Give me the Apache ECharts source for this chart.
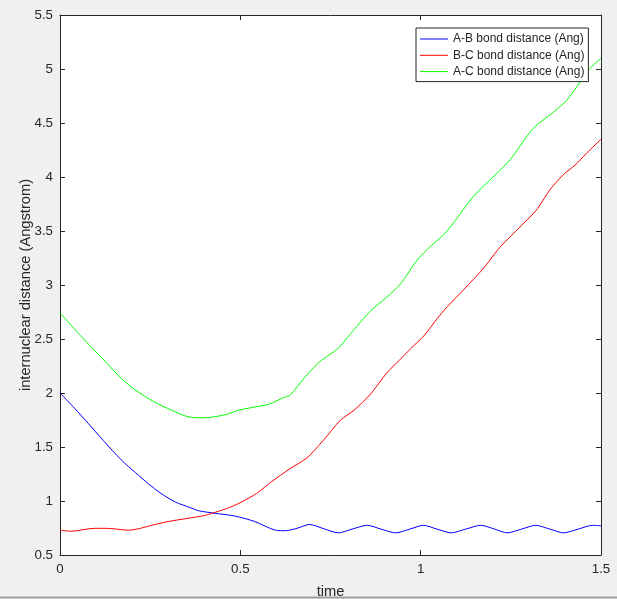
<!DOCTYPE html>
<html>
<head>
<meta charset="utf-8">
<script src="https://cdn.jsdelivr.net/npm/echarts@6/dist/echarts.min.js"></script>
<style>
    html, body { margin: 0; padding: 0; background: #f0f0f0; }
    #main { width: 617px; height: 599px; }
</style>
</head>
<body>
<div id="main"></div>
<script>
// A-B bond distance
var abTime = [0, 0.04, 0.078, 0.12, 0.17, 0.21, 0.245, 0.28, 0.32, 0.36, 0.384, 0.43, 0.486, 0.54, 0.597, 0.625,
    0.66, 0.692, 0.73, 0.772, 0.81, 0.852, 0.89, 0.931, 0.97, 1.008, 1.045, 1.085, 1.125, 1.167,
    1.205, 1.24, 1.28, 1.319, 1.358, 1.396, 1.437, 1.477, 1.5];
var abDist = [2.0, 1.86, 1.72, 1.56, 1.38, 1.26, 1.16, 1.07, 0.99, 0.94, 0.91, 0.886, 0.86, 0.81, 0.73, 0.725,
    0.75, 0.783, 0.745, 0.705, 0.74, 0.775, 0.74, 0.705, 0.74, 0.775, 0.74, 0.705, 0.74, 0.775,
    0.74, 0.705, 0.74, 0.775, 0.74, 0.705, 0.74, 0.775, 0.77];

// B-C bond distance
var bcTime = [0, 0.03, 0.096, 0.13, 0.19, 0.22, 0.26, 0.3, 0.355, 0.4, 0.43, 0.47, 0.503, 0.545, 0.587, 0.638,
    0.685, 0.731, 0.778, 0.815, 0.861, 0.907, 0.94, 0.972, 1.009, 1.046, 1.074, 1.12, 1.173, 1.22,
    1.27, 1.32, 1.358, 1.395, 1.428, 1.46, 1.5];
var bcDist = [0.73, 0.72, 0.747, 0.747, 0.73, 0.745, 0.78, 0.81, 0.84, 0.865, 0.895, 0.94, 0.99, 1.07, 1.18, 1.30,
    1.40, 1.565, 1.75, 1.84, 1.99, 2.19, 2.30, 2.41, 2.53, 2.69, 2.80, 2.96, 3.15, 3.35,
    3.52, 3.69, 3.88, 4.02, 4.11, 4.22, 4.35];

// A-C bond distance
var acTime = [0, 0.06, 0.12, 0.17, 0.208, 0.26, 0.31, 0.355, 0.39, 0.42, 0.46, 0.494, 0.54, 0.578, 0.625, 0.638,
    0.68, 0.72, 0.758, 0.776, 0.806, 0.861, 0.907, 0.944, 0.99, 1.028, 1.065, 1.09, 1.146, 1.21,
    1.248, 1.312, 1.368, 1.405, 1.442, 1.465, 1.5];
var acDist = [2.743, 2.52, 2.31, 2.135, 2.03, 1.92, 1.84, 1.78, 1.77, 1.776, 1.80, 1.84, 1.87, 1.895, 1.965, 1.98,
    2.15, 2.29, 2.38, 2.43, 2.55, 2.76, 2.89, 3.01, 3.23, 3.36, 3.47, 3.57, 3.82, 4.03,
    4.16, 4.45, 4.60, 4.71, 4.88, 4.99, 5.10];

var seriesNames = ['A-B bond distance (Ang)', 'B-C bond distance (Ang)', 'A-C bond distance (Ang)'];
var seriesColors = ['#0000ff', '#ff0000', '#00ff00'];

function pairs(xs, ys) {
    var out = [];
    for (var i = 0; i < xs.length; i++) {
        out.push([xs[i], ys[i]]);
    }
    return out;
}

var axisColor = '#262626';
var font = 'Liberation Sans, Arial, sans-serif';

var myChart = echarts.init(document.getElementById('main'));

var option = {
    backgroundColor: '#f0f0f0',
    animation: false,
    grid: {
        left: 60,
        top: 15,
        width: 541,
        height: 540,
        outerBoundsMode: 'none',
        containLabel: false,
        show: true,
        backgroundColor: '#ffffff',
        borderWidth: 0
    },
    legend: {
        data: seriesNames,
        orient: 'vertical',
        left: 416,
        top: 28,
        padding: [5, 4, 4, 4],
        itemGap: 4.3,
        itemWidth: 28,
        itemHeight: 1,
        icon: 'rect',
        backgroundColor: '#ffffff',
        borderColor: axisColor,
        borderWidth: 1,
        borderRadius: 0,
        textStyle: {
            fontFamily: font,
            fontSize: 12,
            color: axisColor
        }
    },
    xAxis: [
        {
            type: 'value',
            min: 0,
            max: 1.5,
            interval: 0.5,
            name: 'time',
            nameLocation: 'middle',
            nameGap: 29,
            nameTextStyle: { fontFamily: font, fontSize: 14.7, color: axisColor },
            axisLine: { show: true, lineStyle: { color: axisColor, width: 1 } },
            axisTick: { show: true, inside: true, length: 5, lineStyle: { color: axisColor } },
            axisLabel: { margin: 8, fontFamily: font, fontSize: 13.3, color: axisColor },
            splitLine: { show: false }
        },
        {
            type: 'value',
            position: 'top',
            min: 0,
            max: 1.5,
            interval: 0.5,
            axisLine: { show: true, onZero: false, lineStyle: { color: axisColor, width: 1 } },
            axisTick: { show: true, inside: true, length: 5, lineStyle: { color: axisColor } },
            axisLabel: { show: false },
            splitLine: { show: false }
        }
    ],
    yAxis: [
        {
            type: 'value',
            min: 0.5,
            max: 5.5,
            interval: 0.5,
            name: 'internuclear distance (Angstrom)',
            nameLocation: 'middle',
            nameGap: 27,
            nameMoveOverlap: false,
            nameTextStyle: { fontFamily: font, fontSize: 14.7, color: axisColor },
            axisLine: { show: true, onZero: false, lineStyle: { color: axisColor, width: 1 } },
            axisTick: { show: true, inside: true, length: 5, lineStyle: { color: axisColor } },
            axisLabel: { margin: 7, fontFamily: font, fontSize: 13.3, color: axisColor },
            splitLine: { show: false }
        },
        {
            type: 'value',
            position: 'right',
            min: 0.5,
            max: 5.5,
            interval: 0.5,
            axisLine: { show: true, onZero: false, lineStyle: { color: axisColor, width: 1 } },
            axisTick: { show: true, inside: true, length: 5, lineStyle: { color: axisColor } },
            axisLabel: { show: false },
            splitLine: { show: false }
        }
    ],
    graphic: [
        {
            type: 'line',
            shape: { x1: 0, y1: 597.5, x2: 617, y2: 597.5 },
            style: { stroke: '#a0a0a0', lineWidth: 2 },
            silent: true
        }
    ],
    series: [
        {
            name: seriesNames[0],
            type: 'line',
            showSymbol: false,
            smooth: 0.25,
            data: pairs(abTime, abDist),
            lineStyle: { color: seriesColors[0], width: 1 },
            itemStyle: { color: seriesColors[0] }
        },
        {
            name: seriesNames[1],
            type: 'line',
            showSymbol: false,
            smooth: 0.25,
            data: pairs(bcTime, bcDist),
            lineStyle: { color: seriesColors[1], width: 1 },
            itemStyle: { color: seriesColors[1] }
        },
        {
            name: seriesNames[2],
            type: 'line',
            showSymbol: false,
            smooth: 0.25,
            data: pairs(acTime, acDist),
            lineStyle: { color: seriesColors[2], width: 1 },
            itemStyle: { color: seriesColors[2] }
        }
    ]
};

myChart.setOption(option);
</script>
</body>
</html>
